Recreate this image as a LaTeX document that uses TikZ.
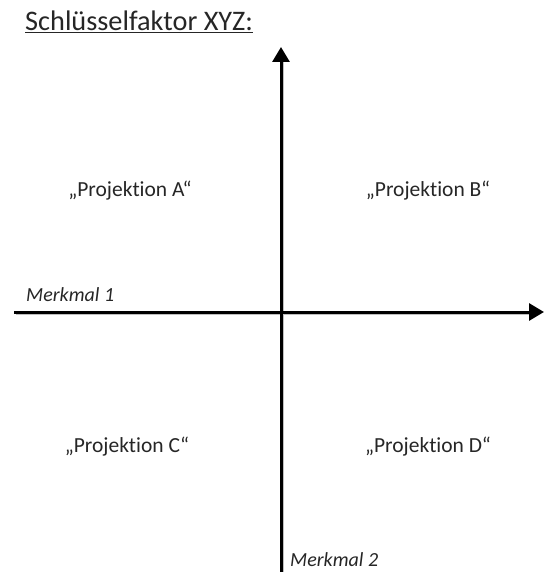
\documentclass[tikz,border=0pt]{standalone}
\usepackage{fontspec}
\setmainfont{Carlito}[Ligatures={NoCommon}]
\usetikzlibrary{arrows.meta}
\begin{document}
\begin{tikzpicture}[x=1pt,y=-1pt,
  axis/.style={line width=3pt,-{Triangle[length=15pt,width=17pt]}},
  shadow/.style={line width=3pt,draw=black!25},
  proj/.style={font=\fontsize{21.5}{24}\selectfont, text=black!85},
  merk/.style={font=\fontsize{20}{22}\selectfont\itshape, inner sep=0pt, text=black!85}]
\useasboundingbox (0,0) rectangle (544,572);
\node[anchor=base west, inner sep=0pt, text=black!85, font=\fontsize{28.3}{30}\selectfont] (title) at (25,31) {\underline{Schlüsselfaktor XYZ:}};
% axes
\coordinate (xs) at (14,312);
\coordinate (xe) at (544,312);
\coordinate (ys) at (281,572);
\coordinate (ye) at (281,47);
\draw[shadow] (15.5,313.5) -- (530,313.5);
\draw[shadow] (282.5,572) -- (282.5,62);
\draw[axis] (xs) -- (xe);
\draw[axis] (ys) -- (ye);
\node[merk, anchor=base west] (m1) at (26,301) {Merkmal 1};
\node[merk, anchor=base west] (m2) at (290,566) {Merkmal 2};
\node[proj] (pa) at (130,191) {„Projektion A“};
\node[proj] (pb) at (428,191) {„Projektion B“};
\node[proj] (pc) at (127,447) {„Projektion C“};
\node[proj] (pd) at (428,447) {„Projektion D“};
\end{tikzpicture}
\end{document}
